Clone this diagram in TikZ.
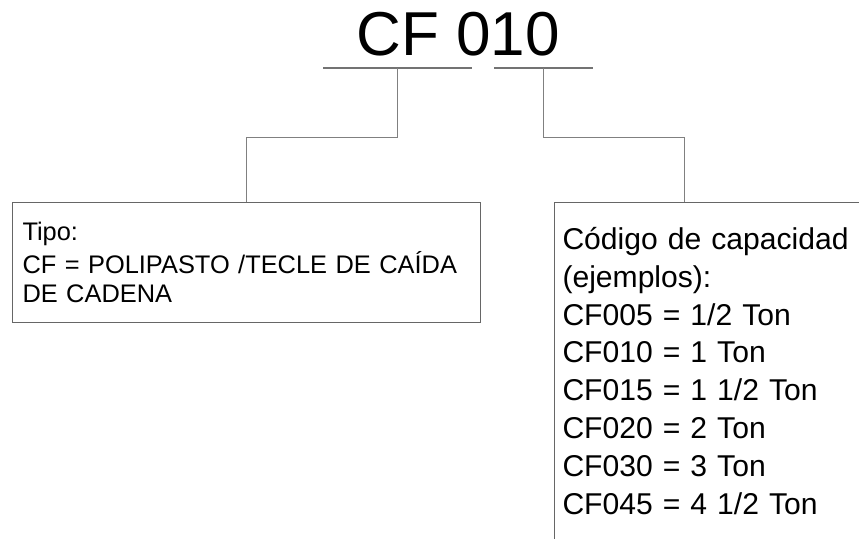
\documentclass[tikz,border=0pt]{standalone}
\usepackage{fontspec}
\setmainfont{Liberation Sans}
\usetikzlibrary{positioning,calc}

\begin{document}
\begin{tikzpicture}[x=1pt,y=-1pt,
        wire/.style={draw=black!50,line width=1pt},
        bar/.style={draw=black!55,line width=1.4pt},
        infobox/.style={draw=black!60,line width=1pt,anchor=north west,align=left,inner xsep=10pt,inner ysep=0pt}]
        \useasboundingbox (0,0) rectangle (859,538);
        \clip (0,0) rectangle (859,538);
        \node[anchor=base west,inner sep=0pt,font=\fontsize{62}{62}\selectfont] (code) at (356.5,55) {CF 010};
        \coordinate (t_l) at (323,68);
        \coordinate (t_r) at (472,68);
        \coordinate (c_l) at (494,68);
        \coordinate (c_r) at (593,68);
        \node[infobox,text width=448pt,font=\fontsize{25.4}{29}\selectfont] (tipo) at (12,202)
              {\rule{0pt}{38pt}Tipo:\\[4pt]
               CF = POLIPASTO /TECLE DE CAÍDA\\
               DE CADENA\rule[-20pt]{0pt}{20pt}};
        \node[infobox,inner xsep=8pt,text width=330pt,font=\fontsize{30.1}{37.8}\selectfont] (cap) at (554,202)
              {\rule{0pt}{47pt}Código de capacidad\\
               (ejemplos):\\
               CF005 = 1/2 Ton\\
               CF010 = 1 Ton\\
               CF015 = 1 1/2 Ton\\
               CF020 = 2 Ton\\
               CF030 = 3 Ton\\
               CF045 = 4 1/2 Ton\rule[-60pt]{0pt}{60pt}};
        \path[bar] (t_l) edge (t_r)
                   (c_l) edge (c_r);
        \draw[wire] ($(t_l)!0.5!(t_r)$) -- ++(0,69) -| (tipo.north);
        \draw[wire] ($(c_l)!0.5!(c_r)$) -- ++(0,69) -| ([xshift=130pt]cap.north west);
      \end{tikzpicture}
\end{document}
